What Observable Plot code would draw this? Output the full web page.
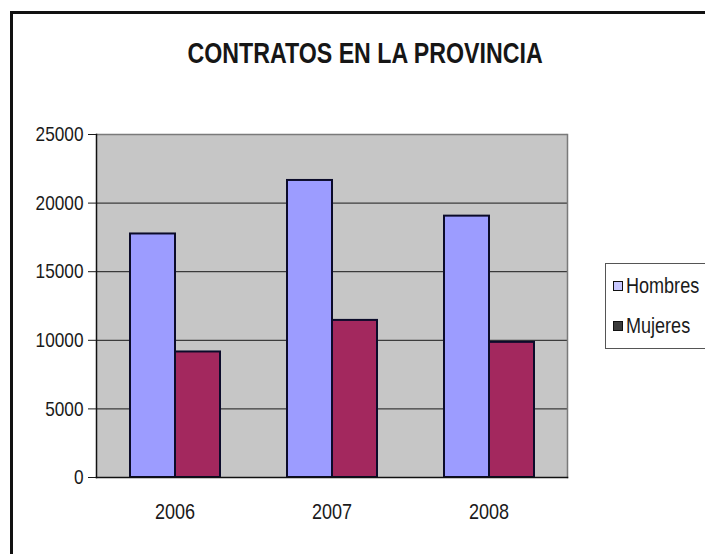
<!DOCTYPE html>
<html>
<head>
<meta charset="utf-8">
<script src="https://cdn.jsdelivr.net/npm/d3@7"></script>
<script src="https://cdn.jsdelivr.net/npm/@observablehq/plot@0.6"></script>
<style>
  html, body { margin: 0; padding: 0; background: #fff; }
  body { width: 705px; height: 554px; overflow: hidden; position: relative;
         font-family: "Liberation Sans", Arial, sans-serif; }
  #frame { position: absolute; left: 10px; top: 11px; width: 720px; height: 600px;
           border-left: 3px solid #111; border-top: 3px solid #111; }
  #title { position: absolute; left: 0; width: 730px; top: 37px; text-align: center; }
  #title span { display: inline-block; font-size: 29px; font-weight: bold; color: #161616;
                transform: scaleX(0.8); transform-origin: center; white-space: nowrap; }
  #chart { position: absolute; left: 0; top: 100px; }
  #legend { position: absolute; left: 605px; top: 263px; width: 120px; height: 84px;
            border: 1px solid #555; background: #fff; font-size: 22px; color: #1a1a1a; }
  .item { position: absolute; left: 7px; display: flex; align-items: center; white-space: nowrap; }
  .sw { width: 8px; height: 8px; border: 1.5px solid #111; margin-right: 3px; flex: none; }
  .lab { display: inline-block; transform: scaleX(0.82); transform-origin: left center; }
</style>
</head>
<body>
<div id="frame"></div>
<div id="title"><span>CONTRATOS EN LA PROVINCIA</span></div>
<div id="chart"></div>
<div id="legend"></div>
<script>
const years = ["2006", "2007", "2008"];
const series = ["Hombres", "Mujeres"];
const hombres = [17750, 21650, 19050];
const mujeres = [9150, 11450, 9850];
const yTicks = [0, 5000, 10000, 15000, 20000, 25000];
const colors = ["#9c9cff", "#a3285e"];
const swatches = ["#c8c8ff", "#3a3a3a"];

const data = years.flatMap((y, i) => [
  {year: y, serie: series[0], value: hombres[i]},
  {year: y, serie: series[1], value: mujeres[i]}
]);

const chart = Plot.plot({
  width: 620,
  height: 445,
  marginLeft: 96,
  marginRight: 53,
  marginTop: 34,
  marginBottom: 68,
  style: {fontFamily: '"Liberation Sans", Arial, sans-serif', fontSize: "21px", color: "#1a1a1a", background: "transparent"},
  fx: {domain: years, padding: 0, label: null},
  x: {domain: series, paddingInner: 0, paddingOuter: 0.71, axis: null},
  y: {domain: [0, 25000], label: null},
  color: {domain: series, range: colors},
  marks: [
    Plot.frame({fill: "#c6c6c6", facet: "super"}),
    Plot.ruleY(yTicks, {stroke: "#1a1a1a", strokeWidth: 1}),
    Plot.ruleY([25000], {stroke: "#7a7a7a", strokeWidth: 1.5}),
    Plot.frame({anchor: "right", stroke: "#7a7a7a", strokeWidth: 1.5, facet: "super"}),
    Plot.barY(data, {fx: "year", x: "serie", y: "value", fill: "serie", stroke: "#0b0b2a", strokeWidth: 2}),
    Plot.frame({anchor: "left", stroke: "#111", strokeWidth: 1.5, facet: "super"}),
    Plot.frame({anchor: "bottom", stroke: "#111", strokeWidth: 1.5, facet: "super"}),
    Plot.axisY({ticks: yTicks, tickFormat: d => String(d), tickSize: 8, tickPadding: 5, fontSize: 21, label: null}),
    Plot.axisFx({anchor: "bottom", tickSize: 0, tickPadding: 26, fontSize: 22, label: null})
  ]
});
document.getElementById("chart").appendChild(chart);

// narrow the axis lettering (Arial Narrow look)
chart.querySelectorAll("text").forEach(t => {
  const w = t.getComputedTextLength();
  if (w > 0) {
    t.setAttribute("textLength", (w * 0.82).toFixed(1));
    t.setAttribute("lengthAdjust", "spacingAndGlyphs");
  }
});

const legend = document.getElementById("legend");
series.forEach((s, i) => {
  const item = document.createElement("div");
  item.className = "item";
  item.style.top = (9 + i * 40) + "px";
  const sw = document.createElement("span");
  sw.className = "sw";
  sw.style.background = swatches[i];
  const label = document.createElement("span");
  label.className = "lab";
  label.textContent = s;
  item.appendChild(sw);
  item.appendChild(label);
  legend.appendChild(item);
});
</script>
</body>
</html>
